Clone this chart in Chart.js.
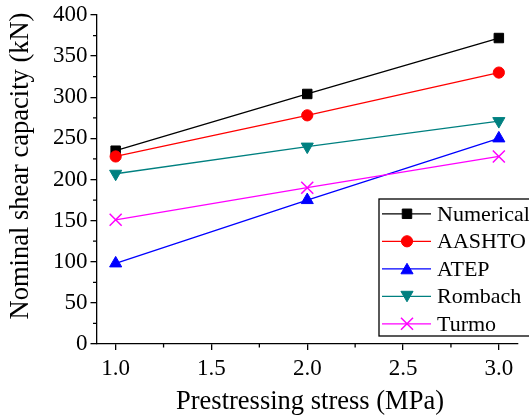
<!DOCTYPE html>
<html><head><meta charset="utf-8">
<script src="https://cdn.jsdelivr.net/npm/chart.js@4"></script>
<style>html,body{margin:0;padding:0;background:#fff}#w{width:529px;height:415px}</style>
</head><body><div id="w"><canvas id="c" width="529" height="415"></canvas></div>
<script>
const stresses = [1.0, 2.0, 3.0];
const numerical = [235, 304, 372];
const aashto = [228, 278, 330];
const atep = [98, 175, 250];
const rombach = [207, 240, 271];
const turmo = [151, 190, 228];
const xTicks = [1.0, 1.5, 2.0, 2.5, 3.0];
const xMinor = [1.25, 1.75, 2.25, 2.75];
const yTicks = [0, 50, 100, 150, 200, 250, 300, 350, 400];
const yMinor = [25, 75, 125, 175, 225, 275, 325, 375];
const seriesNames = ['Numerical', 'AASHTO', 'ATEP', 'Rombach', 'Turmo'];
const xTitle = 'Prestressing stress (MPa)';
const yTitle = 'Nominal shear capacity (kN)';

const FONT = '"Liberation Serif", "Times New Roman", serif';
const styles = [
  {color:'#000000', pointStyle:'rect', radius:6.7, rotation:0},
  {color:'#ff0000', pointStyle:'circle', radius:5.6, rotation:0},
  {color:'#0000ff', pointStyle:'triangle', radius:7, rotation:0},
  {color:'#008080', pointStyle:'triangle', radius:7, rotation:180},
  {color:'#ff00ff', pointStyle:'crossRot', radius:8.5, rotation:0}
];
const values = [numerical, aashto, atep, rombach, turmo];

const datasets = values.map((vals, i) => ({
  label: seriesNames[i],
  data: stresses.map((x, j) => ({x, y: vals[j]})),
  borderColor: styles[i].color,
  backgroundColor: styles[i].color,
  borderWidth: 1.3,
  pointStyle: styles[i].pointStyle,
  pointRadius: styles[i].radius,
  pointRotation: styles[i].rotation,
  pointBorderWidth: styles[i].pointStyle === 'crossRot' ? 1.5 : 1,
  pointBorderColor: styles[i].color,
  pointBackgroundColor: styles[i].color,
  order: 5 - i,
  tension: 0
}));

const extras = {
  id: 'extras',
  afterDraw(chart) {
    const ctx = chart.ctx;
    const xs = chart.scales.x, ys = chart.scales.y;
    ctx.save();
    ctx.strokeStyle = '#000';
    ctx.lineWidth = 1.3;
    ctx.beginPath();
    xMinor.forEach(v => {
      const px = xs.getPixelForValue(v);
      ctx.moveTo(px, xs.top); ctx.lineTo(px, xs.top + 3.5);
    });
    yMinor.forEach(v => {
      const py = ys.getPixelForValue(v);
      ctx.moveTo(ys.right, py); ctx.lineTo(ys.right - 3.5, py);
    });
    ctx.stroke();
    ctx.fillStyle = '#000';
    ctx.font = '26.5px ' + FONT;
    ctx.textAlign = 'center';
    ctx.textBaseline = 'middle';
    ctx.fillText(xTitle, 310, 402);
    ctx.save();
    ctx.translate(21, 166);
    ctx.rotate(-Math.PI / 2);
    ctx.fillText(yTitle, 0, 0);
    ctx.restore();
    const lx = 379, ly = 199, lw = 160, lh = 137;
    ctx.fillStyle = '#fff';
    ctx.fillRect(lx, ly, lw, lh);
    ctx.strokeStyle = '#000';
    ctx.lineWidth = 1.3;
    ctx.strokeRect(lx, ly, lw, lh);
    ctx.font = '22px ' + FONT;
    ctx.textAlign = 'left';
    ctx.textBaseline = 'middle';
    seriesNames.forEach((name, i) => {
      const yy = 213.8 + i * 27.5;
      const st = styles[i];
      ctx.strokeStyle = st.color;
      ctx.lineWidth = 1.3;
      ctx.beginPath(); ctx.moveTo(382, yy); ctx.lineTo(431, yy); ctx.stroke();
      ctx.fillStyle = st.color;
      ctx.lineWidth = st.pointStyle === 'crossRot' ? 1.5 : 1;
      Chart.helpers.drawPoint(ctx, {pointStyle: st.pointStyle, radius: st.radius, rotation: st.rotation, borderWidth: 1}, 407, yy + (st.pointStyle==='triangle' ? (st.rotation ? -1.5 : 1.5) : 0));
      ctx.fillStyle = '#000';
      ctx.fillText(name, 437, yy + 1);
    });
    ctx.restore();
  }
};

new Chart(document.getElementById('c'), {
  type: 'line',
  data: {datasets},
  options: {
    responsive: false,
    animation: false,
    layout: {padding: {left: 0, right: 11, top: 15, bottom: 0}},
    plugins: {legend: {display: false}, tooltip: {enabled: false}},
    scales: {
      x: {
        type: 'linear', min: 0.9, max: 3.1,
        afterBuildTicks: s => { s.ticks = xTicks.map(v => ({value: v})); },
        afterFit: s => { s.height = 71; },
        grid: {drawOnChartArea: false, drawTicks: true, tickLength: 6, color: '#000', lineWidth: 1.3},
        border: {display: true, color: '#000', width: 1.3},
        ticks: {color: '#000', font: {family: FONT, size: 23, lineHeight: 1}, padding: 7, maxRotation: 0,
                callback: v => Number(v).toFixed(1)}
      },
      y: {
        type: 'linear', min: 0, max: 400,
        afterBuildTicks: s => { s.ticks = yTicks.map(v => ({value: v})); },
        afterFit: s => { s.width = 96.5; },
        grid: {drawOnChartArea: false, drawTicks: true, tickLength: 6, color: '#000', lineWidth: 1.3},
        border: {display: true, color: '#000', width: 1.3},
        ticks: {color: '#000', font: {family: FONT, size: 23, lineHeight: 1}, padding: 3, callback: v => String(v)}
      }
    }
  },
  plugins: [extras]
});
</script>
</body></html>
